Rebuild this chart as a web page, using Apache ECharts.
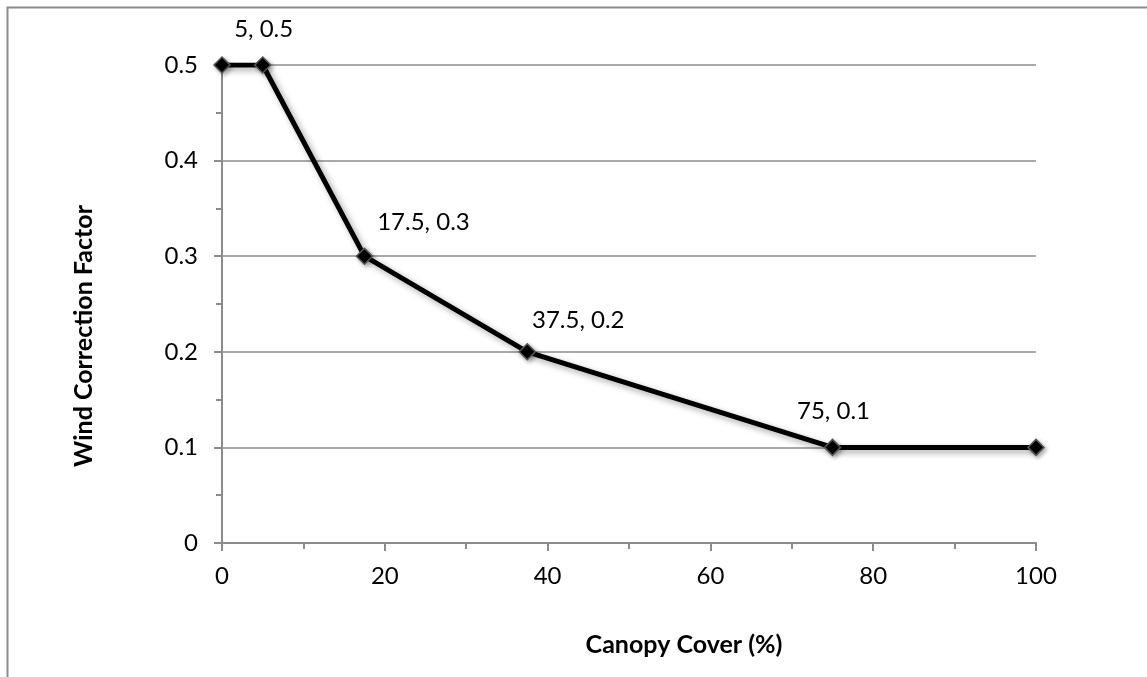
<!DOCTYPE html>
<html>
<head>
<meta charset="utf-8">
<script src="https://cdn.jsdelivr.net/npm/echarts@6/dist/echarts.min.js"></script>
<style>
  html, body { margin: 0; padding: 0; background: #fff; }
  #chart { width: 1147px; height: 677px; }
</style>
</head>
<body>
<div id="chart"></div>
<script>
// Wind correction factor as a function of canopy cover
const canopyCover = [0, 5, 17.5, 37.5, 75, 100];
const windFactor = [0.5, 0.5, 0.3, 0.2, 0.1, 0.1];
// which points carry a "x, y" value label
const labelled = [false, true, true, true, true, false];
const xTitle = 'Canopy Cover (%)';
const yTitle = 'Wind Correction Factor';

// hand-placed label offsets, per point
const labelOffsets = [[0, 0], [1, -10], [59, -8], [51, -6], [1, -10], [0, 0]];

const FONT = 'Lato, Carlito, "Open Sans", sans-serif';
const AXIS_GRAY = '#8c8c8c';

const points = canopyCover.map((x, i) => ({
  value: [x, windFactor[i]],
  label: {
    show: labelled[i],
    position: 'top',
    offset: labelOffsets[i],
    formatter: x + ', ' + windFactor[i],
    fontFamily: FONT,
    fontSize: 24,
    color: '#000'
  }
}));

const chart = echarts.init(document.getElementById('chart'), null, { renderer: 'canvas' });
chart.setOption({
  animation: false,
  backgroundColor: '#fff',
  graphic: [{
    type: 'rect',
    shape: { x: 7.5, y: 7.5, width: 1160, height: 700 },
    style: { fill: 'none', stroke: AXIS_GRAY, lineWidth: 2 },
    silent: true,
    z: -10
  }],
  grid: { left: 222, right: 111, top: 65, bottom: 134, containLabel: false },
  xAxis: {
    type: 'value',
    min: 0, max: 100, interval: 20,
    name: xTitle,
    nameLocation: 'middle',
    nameGap: 89,
    // title sits right of the plot centre
    nameTextStyle: { fontFamily: FONT, fontSize: 25, fontWeight: 'bold', color: '#000', padding: [0, 0, 0, 110] },
    axisLine: { show: true, onZero: false, lineStyle: { color: AXIS_GRAY, width: 2 } },
    axisTick: { show: true, length: 8, lineStyle: { color: AXIS_GRAY, width: 2 } },
    minorTick: { show: true, splitNumber: 2, length: 6, lineStyle: { color: AXIS_GRAY, width: 2 } },
    splitLine: { show: false },
    axisLabel: { fontFamily: FONT, fontSize: 24, color: '#000', margin: 21 }
  },
  yAxis: {
    type: 'value',
    min: 0, max: 0.5, interval: 0.1,
    name: yTitle,
    nameLocation: 'middle',
    nameGap: 126,
    nameRotate: 90,
    // title sits below the plot centre
    nameTextStyle: { fontFamily: FONT, fontSize: 25, fontWeight: 'bold', color: '#000', padding: [0, 64, 0, 0] },
    axisLine: { show: true, lineStyle: { color: AXIS_GRAY, width: 2 } },
    axisTick: { show: true, length: 8, lineStyle: { color: AXIS_GRAY, width: 2 } },
    minorTick: { show: true, splitNumber: 2, length: 6, lineStyle: { color: AXIS_GRAY, width: 2 } },
    splitLine: { show: true, lineStyle: { color: AXIS_GRAY, width: 1.5 } },
    axisLabel: { fontFamily: FONT, fontSize: 24, color: '#000', margin: 24 }
  },
  series: [{
    type: 'line',
    data: points,
    symbol: 'diamond',
    symbolSize: 16,
    lineStyle: {
      color: '#000', width: 5,
      shadowColor: 'rgba(0,0,0,0.35)', shadowBlur: 6, shadowOffsetX: 3, shadowOffsetY: 3
    },
    itemStyle: {
      color: '#000', borderColor: '#555', borderWidth: 1.5,
      shadowColor: 'rgba(0,0,0,0.3)', shadowBlur: 4, shadowOffsetX: 2, shadowOffsetY: 2
    },
    z: 5
  }]
});
</script>
</body>
</html>
